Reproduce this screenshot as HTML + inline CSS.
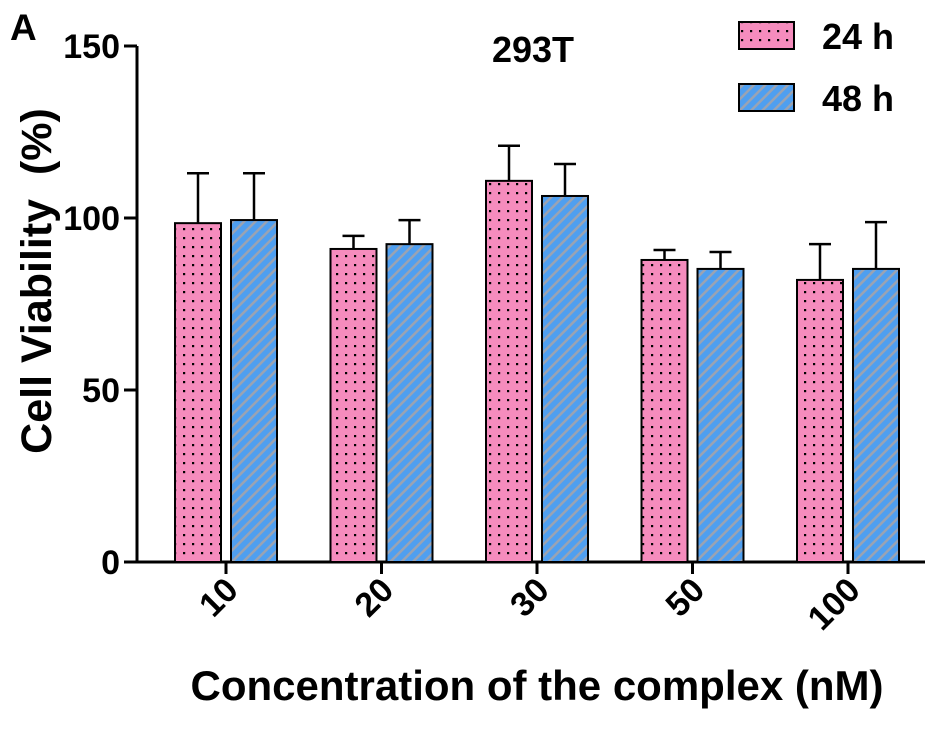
<!DOCTYPE html>
<html><head><meta charset="utf-8"><style>
body{margin:0;background:#fff;}
svg text{font-family:"Liberation Sans",Arial,sans-serif;font-weight:bold;fill:#000;}
</style></head><body>
<svg id="chart" width="945" height="727" viewBox="0 0 945 727">
<defs>
<pattern id="dots" width="9" height="9" patternUnits="userSpaceOnUse">
<rect width="9" height="9" fill="#f58cbd"/><rect x="3" y="3" width="2.2" height="2.2" fill="#000"/>
</pattern>
<pattern id="stripes" width="8" height="8" patternUnits="userSpaceOnUse" patternTransform="rotate(45)">
<rect width="8" height="8" fill="#4f9ff0"/><rect width="2.5" height="8" fill="#9aa3b3"/>
</pattern>
</defs>
<text x="10" y="40" style="font-size:37px">A</text>
<text x="533" y="62" style="font-size:36px" text-anchor="middle">293T</text>
<g>
<rect x="739" y="22" width="55" height="27" fill="url(#dots)" stroke="#000" stroke-width="2"/>
<text x="822" y="49" style="font-size:36px">24 h</text>
<rect x="739" y="84" width="55" height="27" fill="url(#stripes)" stroke="#000" stroke-width="2"/>
<text x="822" y="111" style="font-size:36px">48 h</text>
</g>
<text transform="translate(51,281) rotate(-90)" style="font-size:43px;white-space:pre" text-anchor="middle">Cell Viability  (%)</text>
<text x="537" y="700" style="font-size:42px" text-anchor="middle">Concentration of the complex (nM)</text>
<g id="axes"></g>
<g id="bars"></g>
</svg>
<script>
const categories=["10","20","30","50","100"];
const values24=[98.5,91,110.8,87.8,82];
const err24=[14.5,3.8,10.2,2.9,10.4];
const values48=[99.4,92.4,106.4,85.2,85.2];
const err48=[13.6,7,9.3,4.9,13.6];
const yTicks=[0,50,100,150];
const ns="http://www.w3.org/2000/svg";
const y0=562,yTop=46,yMax=150;
function yScale(v){return y0-(v/yMax)*(y0-yTop);}
function xCenter(i){return 226+i*155.5;}
function mk(t,a,p){const e=document.createElementNS(ns,t);for(const k in a)e.setAttribute(k,a[k]);p.appendChild(e);return e;}
const axes=document.getElementById('axes'),bars=document.getElementById('bars');
const ya=mk('line',{x1:137,y1:yTop,x2:137,y2:y0+1,stroke:'#000','stroke-width':3},axes);


const xa=mk('line',{x1:135.5,y1:y0,x2:925,y2:y0,stroke:'#000','stroke-width':3},axes);


yTicks.forEach(t=>{const y=yScale(t);
mk('line',{x1:124,y1:y,x2:137,y2:y,stroke:'#000','stroke-width':3},axes);
const tx=mk('text',{x:120,y:y+12,'text-anchor':'end',style:'font-size:34px'},axes);tx.textContent=t;

});
categories.forEach((c,i)=>{const xc=xCenter(i);
mk('line',{x1:xc,y1:y0,x2:xc,y2:y0+12,stroke:'#000','stroke-width':3},axes);
const tx=mk('text',{'text-anchor':'end',style:'font-size:34px',transform:`translate(${xc+14},${y0+30}) rotate(-45)`},axes);tx.textContent=c;


[[values24,err24,'url(#dots)',xc-51,'24h'],[values48,err48,'url(#stripes)',xc+5,'48h']].forEach(([v,e,f,x,s])=>{
const cx=x+23,yt=yScale(v[i]),ye=yScale(v[i]+e[i]);
const el=mk('line',{x1:cx,y1:yt,x2:cx,y2:ye,stroke:'#000','stroke-width':2.5},bars);


mk('line',{x1:cx-11,y1:ye,x2:cx+11,y2:ye,stroke:'#000','stroke-width':2.5},bars);
const r=mk('rect',{x:x,y:yt,width:46,height:y0-yt,fill:f,stroke:'#000','stroke-width':2},bars);

});});
</script>
</body></html>
